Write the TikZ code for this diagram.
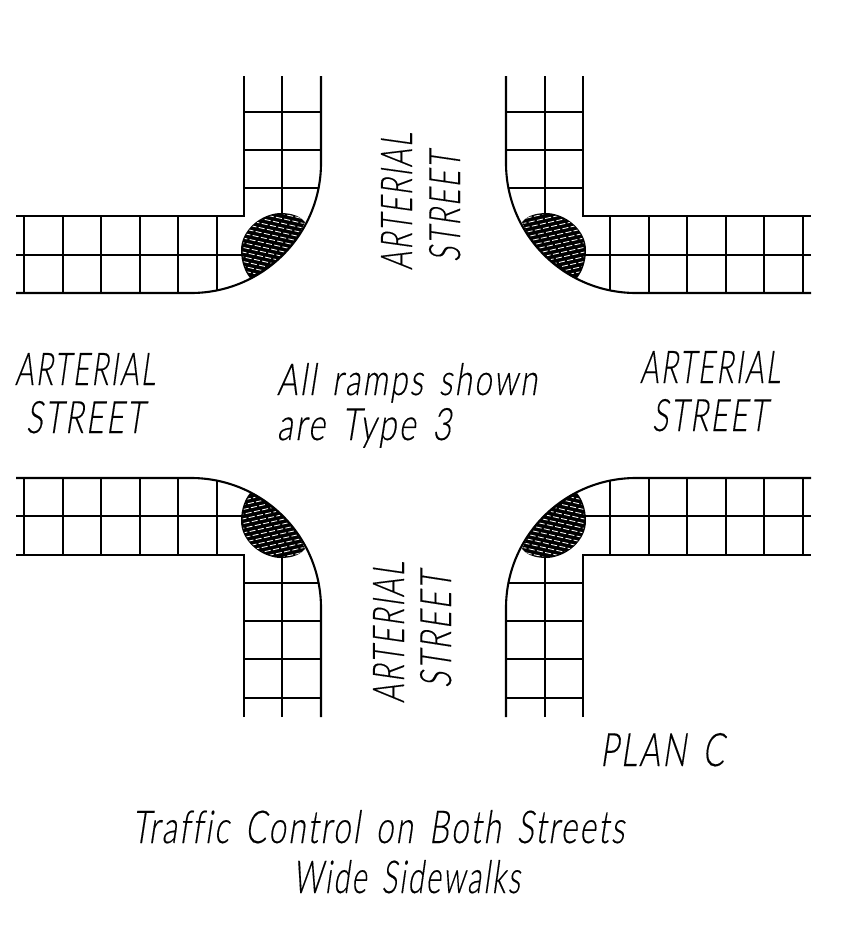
\documentclass[tikz,border=0pt]{standalone}
\usepackage{fontspec}
\newfontfamily\cadfont{Lato Light}[FakeSlant=0.22,FakeBold=0.35,LetterSpace=7,Ligatures=NoCommon,WordSpace=1.5]
\newcommand{\lbl}[3]{\resizebox{#1pt}{#2pt}{\cadfont #3}}
\tikzset{
  walk/.style={line width=2.1pt,line cap=butt,line join=miter},
  cadtext/.style={anchor=base west,inner sep=0pt,outer sep=0pt},
  hatchline/.style={white,line width=0.85pt,dash pattern=on 6pt off 2.4pt}
}
% one corner, drawn as the top-left; #1 = far end of the cross street
\newcommand{\corner}[1]{%
  \draw[walk] (244,#1) -- (244,216) -- (16,216);
  \draw[walk] (321,#1) -- (321,163) arc[start angle=0,end angle=90,radius=130] -- (16,293);
  \draw[walk] (282,#1) -- (282,214);
  \draw[walk] (16,255) -- (242,255);
  \foreach \yy/\xe in {112/321,150/321,188/318}{\draw[walk] (244,\yy) -- (\xe,\yy);}
  \foreach \xx in {24,63,101,140,178}{\draw[walk] (\xx,216) -- (\xx,293);}
  \draw[walk] (217,216) -- (217,290);
  \path[fill=black] (305,222) .. controls (298,214) and (288,213) .. (279,213)
     .. controls (258,215) and (241,232) .. (241,250)
     .. controls (241,262) and (245,272) .. (250,278)
     .. controls (272,268) and (295,247) .. (305,222) -- cycle;
  \begin{scope}
    \clip (305,221) .. controls (298,215.5) and (288,214.5) .. (279,214.5)
     .. controls (258,216) and (242.5,232) .. (242.5,250)
     .. controls (242.5,261) and (246,271) .. (250.5,276)
     .. controls (272,266) and (294,246) .. (304,222) -- cycle;
    \foreach \k in {-4,...,14}{
      \draw[hatchline,dash phase=\k*3.1pt] (235,{208+4.7*\k}) -- (315,{226+4.7*\k});
    }
  \end{scope}
}
\begin{document}
\begin{tikzpicture}[x=1pt,y=-1pt]
\useasboundingbox (0,0) rectangle (865,951);
\corner{76}
\begin{scope}[shift={(827,0)},xscale=-1]\corner{76}\end{scope}
\begin{scope}[shift={(0,771)},yscale=-1]\corner{54}\draw[walk] (244,73) -- (321,73);\end{scope}
\begin{scope}[shift={(827,771)},xscale=-1,yscale=-1]\corner{54}\draw[walk] (244,73) -- (321,73);\end{scope}
\node[cadtext,rotate=90] (t1) at (412,270) {\lbl{137}{31}{ARTERIAL}};
\node[cadtext,rotate=90] (t2) at (460,262) {\lbl{110}{31}{STREET}};
\node[cadtext,rotate=90] (t3) at (404,703) {\lbl{141}{31}{ARTERIAL}};
\node[cadtext,rotate=90] (t4) at (451,688) {\lbl{116}{31}{STREET}};
\node[cadtext] (t5) at (15,385) {\lbl{140}{32}{ARTERIAL}};
\node[cadtext] (t6) at (26,433) {\lbl{118}{32}{STREET}};
\node[cadtext] (t7) at (640,383) {\lbl{140}{32}{ARTERIAL}};
\node[cadtext] (t8) at (652,431) {\lbl{115}{32}{STREET}};
\node[cadtext] (t9) at (277,395) {\lbl{260}{32}{All ramps shown}};
\node[cadtext] (t10) at (277,440) {\lbl{174}{32}{are Type 3}};
\node[cadtext] (t11) at (600,766) {\lbl{124}{33}{PLAN C}};
\node[cadtext] (t12) at (132,843) {\lbl{492}{33}{Traffic Control on Both Streets}};
\node[cadtext] (t13) at (293,893) {\lbl{227}{33}{Wide Sidewalks}};
\end{tikzpicture}
\end{document}
